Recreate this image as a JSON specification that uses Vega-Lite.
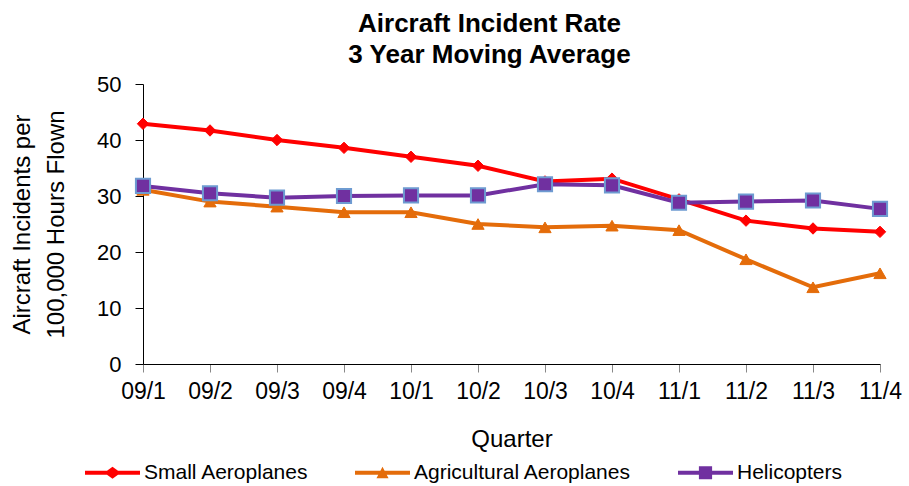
{
  "$schema": "https://vega.github.io/schema/vega-lite/v6.json",
  "autosize": "none",
  "width": 737,
  "height": 280,
  "padding": {"left": 143, "top": 84, "right": 29, "bottom": 122},
  "background": "white",
  "config": {
    "font": "Liberation Sans",
    "view": {"stroke": null},
    "axis": {"grid": false, "domainColor": "black", "labelColor": "black", "titleColor": "black"}
  },
  "title": {
    "text": ["Aircraft Incident Rate", "3 Year Moving Average"],
    "fontSize": 26,
    "fontWeight": "bold",
    "font": "Liberation Sans",
    "color": "black",
    "anchor": "middle",
    "offset": 5,
    "lineHeight": 31,
    "dx": -22
  },
  "data": {
    "values": [
      {"q": "09/1", "s": "Small Aeroplanes", "v": 42.9},
      {"q": "09/2", "s": "Small Aeroplanes", "v": 41.7},
      {"q": "09/3", "s": "Small Aeroplanes", "v": 40.0},
      {"q": "09/4", "s": "Small Aeroplanes", "v": 38.6},
      {"q": "10/1", "s": "Small Aeroplanes", "v": 37.0},
      {"q": "10/2", "s": "Small Aeroplanes", "v": 35.4},
      {"q": "10/3", "s": "Small Aeroplanes", "v": 32.6},
      {"q": "10/4", "s": "Small Aeroplanes", "v": 33.1},
      {"q": "11/1", "s": "Small Aeroplanes", "v": 29.4},
      {"q": "11/2", "s": "Small Aeroplanes", "v": 25.6},
      {"q": "11/3", "s": "Small Aeroplanes", "v": 24.2},
      {"q": "11/4", "s": "Small Aeroplanes", "v": 23.6},
      {"q": "09/1", "s": "Agricultural Aeroplanes", "v": 31.1},
      {"q": "09/2", "s": "Agricultural Aeroplanes", "v": 29.0},
      {"q": "09/3", "s": "Agricultural Aeroplanes", "v": 28.1},
      {"q": "09/4", "s": "Agricultural Aeroplanes", "v": 27.1},
      {"q": "10/1", "s": "Agricultural Aeroplanes", "v": 27.1},
      {"q": "10/2", "s": "Agricultural Aeroplanes", "v": 25.0},
      {"q": "10/3", "s": "Agricultural Aeroplanes", "v": 24.4},
      {"q": "10/4", "s": "Agricultural Aeroplanes", "v": 24.7},
      {"q": "11/1", "s": "Agricultural Aeroplanes", "v": 23.9},
      {"q": "11/2", "s": "Agricultural Aeroplanes", "v": 18.7},
      {"q": "11/3", "s": "Agricultural Aeroplanes", "v": 13.7},
      {"q": "11/4", "s": "Agricultural Aeroplanes", "v": 16.2},
      {"q": "09/1", "s": "Helicopters", "v": 31.8},
      {"q": "09/2", "s": "Helicopters", "v": 30.5},
      {"q": "09/3", "s": "Helicopters", "v": 29.7},
      {"q": "09/4", "s": "Helicopters", "v": 30.0},
      {"q": "10/1", "s": "Helicopters", "v": 30.1},
      {"q": "10/2", "s": "Helicopters", "v": 30.1},
      {"q": "10/3", "s": "Helicopters", "v": 32.1},
      {"q": "10/4", "s": "Helicopters", "v": 31.9},
      {"q": "11/1", "s": "Helicopters", "v": 28.8},
      {"q": "11/2", "s": "Helicopters", "v": 29.0},
      {"q": "11/3", "s": "Helicopters", "v": 29.2},
      {"q": "11/4", "s": "Helicopters", "v": 27.7}
    ]
  },
  "encoding": {
    "x": {
      "field": "q", "type": "ordinal", "sort": null,
      "scale": {"type": "point", "padding": 0},
      "axis": {"title": "Quarter", "titleFontSize": 24, "titleFontWeight": "normal", "titlePadding": 24, "labelFontSize": 23, "labelAngle": 0, "labelPadding": 8, "tickSize": 8, "tickColor": "#888", "labelOverlap": false}
    },
    "y": {
      "field": "v", "type": "quantitative",
      "scale": {"domain": [0, 50], "nice": false},
      "axis": {"title": ["Aircraft Incidents per", "100,000 Hours Flown"], "titleFontSize": 24, "titleFontWeight": "normal", "titlePadding": 28, "titleLineHeight": 34, "labelFontSize": 22, "values": [0, 10, 20, 30, 40, 50], "tickSize": 8, "tickColor": "black", "labelPadding": 14}
    },
    "color": {
      "field": "s", "type": "nominal",
      "scale": {"domain": ["Small Aeroplanes", "Agricultural Aeroplanes", "Helicopters"], "range": ["#FF0000", "#E46C0A", "#7030A0"]},
      "legend": {
        "title": null, "orient": "none", "direction": "horizontal",
        "legendX": -58, "legendY": 361, "padding": 0,
        "labelFontSize": 21, "labelColor": "black", "labelLimit": 400,
        "symbolSize": 3025, "columnPadding": 46, "labelOffset": 4,
        "symbolStrokeWidth": 0, "symbolOpacity": 1,
        "encode": {
          "symbols": {
            "update": {
              "shape": {"signal": "datum.value === 'Small Aeroplanes' ? 'M-1,-0.07H-0.2L0,-0.22L0.2,-0.07H1V0.07H0.2L0,0.22L-0.2,0.07H-1Z' : datum.value === 'Agricultural Aeroplanes' ? 'M-1,-0.07H1V0.07H-1Z M-0.22,0.2L0,-0.22L0.22,0.2Z' : 'M-1,-0.07H1V0.07H-1Z M-0.24,-0.24H0.24V0.24H-0.24Z'"}
            }
          }
        }
      }
    }
  },
  "layer": [
    {"mark": {"type": "line", "strokeWidth": 4}},
    {
      "transform": [{"filter": "datum.s === 'Small Aeroplanes'"}],
      "mark": {"type": "point", "filled": true, "opacity": 1, "shape": "diamond", "size": 130, "stroke": "#FF0000", "strokeWidth": 1}
    },
    {
      "transform": [{"filter": "datum.s === 'Agricultural Aeroplanes'"}],
      "mark": {"type": "point", "filled": true, "opacity": 1, "shape": "triangle-up", "size": 150, "stroke": "#E46C0A", "strokeWidth": 1}
    },
    {
      "transform": [{"filter": "datum.s === 'Helicopters'"}],
      "mark": {"type": "point", "filled": true, "opacity": 1, "shape": "square", "size": 200, "stroke": "#6E9BD1", "strokeWidth": 2}
    }
  ]
}
